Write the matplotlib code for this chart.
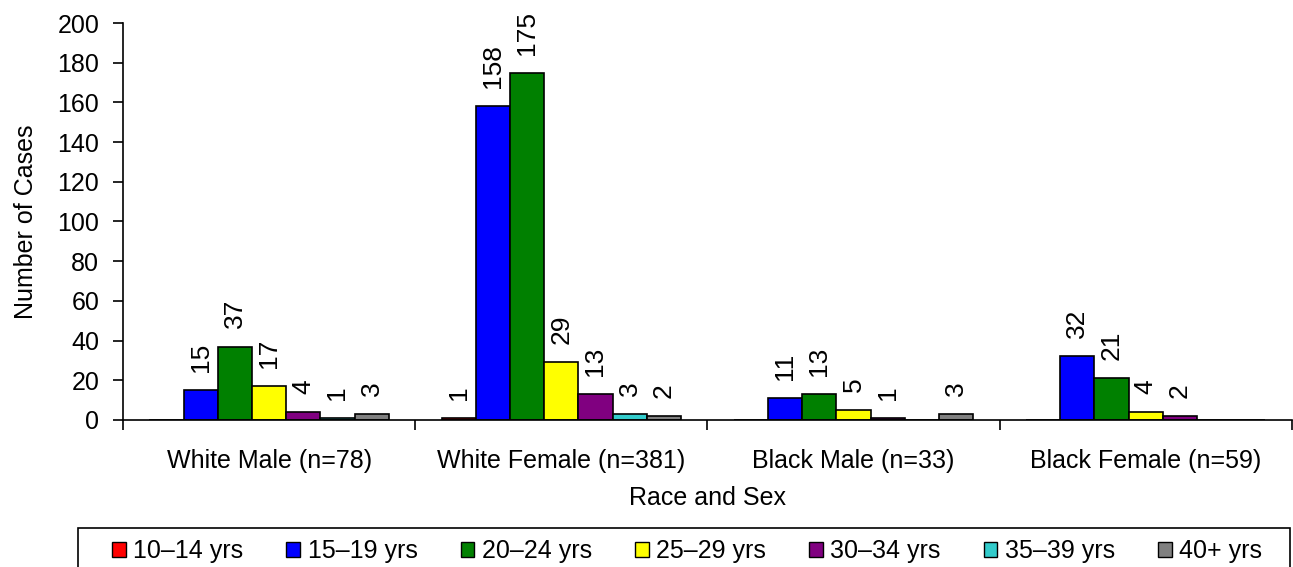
import matplotlib.pyplot as plt
from matplotlib.patches import Patch, Rectangle

plt.rcParams['font.family'] = ['Liberation Sans', 'DejaVu Sans']

groups = ['White Male (n=78)', 'White Female (n=381)', 'Black Male (n=33)', 'Black Female (n=59)']
age_labels = ['10\u201314 yrs', '15\u201319 yrs', '20\u201324 yrs', '25\u201329 yrs',
              '30\u201334 yrs', '35\u201339 yrs', '40+ yrs']
colors = ['#FF0000', '#0000FF', '#008000', '#FFFF00', '#800080', '#33CCCC', '#808080']

# cases per age group, one list per race/sex group order
age_10_14 = [0, 1, 0, 0]
age_15_19 = [15, 158, 11, 32]
age_20_24 = [37, 175, 13, 21]
age_25_29 = [17, 29, 5, 4]
age_30_34 = [4, 13, 1, 2]
age_35_39 = [1, 3, 0, 0]
age_40_up = [3, 2, 3, 0]
series = [age_10_14, age_15_19, age_20_24, age_25_29, age_30_34, age_35_39, age_40_up]

fs = 18

fig = plt.figure(figsize=(12.93, 5.67), dpi=100)
ax = fig.add_axes([0.0951, 0.2593, 0.9040, 0.7001])

w = 0.117
for i, vals in enumerate(series):
    xs = [g + (i - 3) * w for g in range(len(groups))]
    ax.bar(xs, vals, width=w, color=colors[i], edgecolor='black', linewidth=1.2)
    for x, v in zip(xs, vals):
        if v > 0:
            ax.annotate(str(v), (x, v), xytext=(0, 13), textcoords='offset points',
                        rotation=90, ha='center', va='bottom', fontsize=fs + 1)

ax.set_xlim(-0.5, 3.5)
ax.set_ylim(0, 200)
ax.set_yticks(range(0, 201, 20))
ax.set_xticks(range(len(groups)))
ax.set_xticklabels(groups)
ax.set_xticks([-0.5, 0.5, 1.5, 2.5, 3.5], minor=True)
ax.tick_params(axis='x', which='major', length=0, pad=21, labelsize=fs)
ax.tick_params(axis='x', which='minor', length=7, width=1.2, direction='out')
ax.tick_params(axis='y', length=7, width=1.2, direction='out', labelsize=fs, pad=10)
for s in ['top', 'right']:
    ax.spines[s].set_visible(False)
for s in ['left', 'bottom']:
    ax.spines[s].set_linewidth(1.2)

ax.set_xlabel('Race and Sex', fontsize=fs, labelpad=9)
ax.set_ylabel('Number of Cases', fontsize=fs, labelpad=14)

# legend entries, frame drawn separately so it can run off the bottom edge
handles = [Patch(facecolor=c, edgecolor='black', linewidth=1.0) for c in colors]
leg = fig.legend(handles, age_labels, loc='center left',
                 bbox_to_anchor=(112 / 1293, 1 - 551 / 567),
                 ncol=7, fontsize=fs, frameon=False,
                 handlelength=0.55, handleheight=0.55, handletextpad=0.3,
                 columnspacing=1.72, borderaxespad=0, borderpad=0)
box = Rectangle((78 / 1293, -0.05), 1212 / 1293, 0.05 + 1 - 528 / 567,
                transform=fig.transFigure, fill=False, edgecolor='black', linewidth=1.2)
fig.patches.append(box)

fig.savefig('out.png', dpi=100)
